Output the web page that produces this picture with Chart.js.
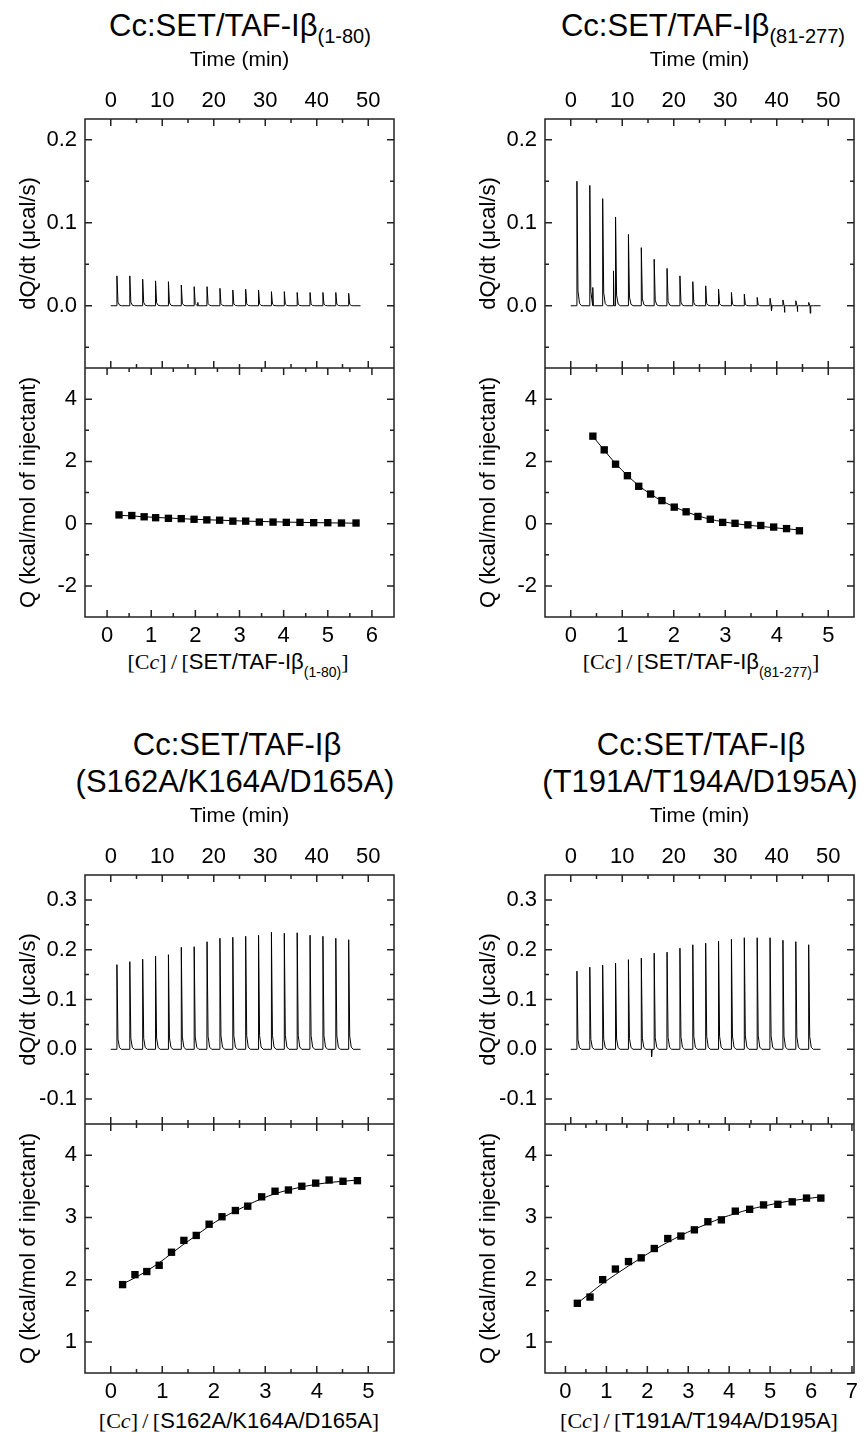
<!DOCTYPE html>
<html>
<head>
<meta charset="utf-8">
<title>ITC titrations</title>
<script src="https://cdn.jsdelivr.net/npm/chart.js@4.4.0/dist/chart.umd.min.js"></script>
<style>
  html, body { margin: 0; padding: 0; background: #fff; }
  body { position: relative; width: 865px; height: 1433px; overflow: hidden;
         font-family: 'Liberation Sans', Arial, sans-serif; color: #000; }
  canvas { position: absolute; }
  .lbl { position: absolute; white-space: nowrap; line-height: 1; transform: translateX(-50%); }
  .ttl { font-size: 31px; }
  .xl { font-size: 22px; }
  .serif { font-family: 'Liberation Serif', 'Times New Roman', serif; }
  .sb { line-height: 0; }
</style>
</head>
<body>

<div class="lbl ttl" style="left:240px; top:10px">Cc:SET/TAF-Iβ<span class="sb" style="font-size:20px; vertical-align:-7px">(1-80)</span></div>
<div class="lbl ttl" style="left:703px; top:10px">Cc:SET/TAF-Iβ<span class="sb" style="font-size:20px; vertical-align:-7px">(81-277)</span></div>
<div class="lbl ttl" style="left:237px; top:729px">Cc:SET/TAF-Iβ</div>
<div class="lbl ttl" style="left:235px; top:766px">(S162A/K164A/D165A)</div>
<div class="lbl ttl" style="left:701px; top:729px">Cc:SET/TAF-Iβ</div>
<div class="lbl ttl" style="left:700px; top:766px">(T191A/T194A/D195A)</div>

<div class="lbl xl" style="left:238px; top:651px"><span class="serif">[C<i>c</i>]&#8201;/&#8201;[</span>SET/TAF-Iβ<span class="sb" style="font-size:14px; vertical-align:-8px">(1-80)</span><span class="serif">]</span></div>
<div class="lbl xl" style="left:701px; top:651px"><span class="serif">[C<i>c</i>]&#8201;/&#8201;[</span>SET/TAF-Iβ<span class="sb" style="font-size:14px; vertical-align:-8px">(81-277)</span><span class="serif">]</span></div>
<div class="lbl xl" style="left:239px; top:1410px"><span class="serif">[C<i>c</i>]&#8201;/&#8201;[</span>S162A/K164A/D165A<span class="serif">]</span></div>
<div class="lbl xl" style="left:699px; top:1410px"><span class="serif">[C<i>c</i>]&#8201;/&#8201;[</span>T191A/T194A/D195A<span class="serif">]</span></div>

<script>
// Injection times (min), same protocol in the four titrations
const injectionTimes = [1.2, 3.7, 6.2, 8.7, 11.2, 13.7, 16.2, 18.7, 21.2, 23.7, 26.2, 28.7, 31.2, 33.7, 36.2, 38.7, 41.2, 43.7, 46.2];
const traceEnd = 48.5;

// Shape of one injection peak: minutes after the injection and fraction of the peak height
const spikeOffsets = [-0.03, 0, 0.2, 0.5, 0.9];
const spikeShape = [0, 1, 0.12, 0.02, 0];

// Peak heights of the raw thermograms (µcal/s)
const peaksA = [0.036, 0.036, 0.032, 0.030, 0.029, 0.025, 0.023, 0.023, 0.021, 0.019, 0.020, 0.019, 0.017, 0.017, 0.016, 0.016, 0.016, 0.016, 0.015];
const peaksB = [0.150, 0.145, 0.129, 0.107, 0.086, 0.070, 0.056, 0.045, 0.036, 0.029, 0.024, 0.020, 0.016, 0.014, 0.010, 0.009, 0.007, 0.006, 0.004];
const peaksC = [0.170, 0.176, 0.181, 0.187, 0.190, 0.205, 0.206, 0.216, 0.223, 0.225, 0.227, 0.229, 0.235, 0.233, 0.234, 0.229, 0.227, 0.223, 0.220];
const peaksD = [0.157, 0.165, 0.169, 0.173, 0.180, 0.183, 0.193, 0.195, 0.203, 0.210, 0.213, 0.217, 0.221, 0.224, 0.224, 0.224, 0.219, 0.216, 0.210];

// Small bumps and dips off the baseline: [time, value]
const blipsA = [[16.9, 0.004]];
const blipsB = [[4.3, 0.022], [8.3, 0.042], [39.0, -0.006], [41.5, -0.008], [44.0, -0.007], [46.5, -0.009]];
const blipsC = [];
const blipsD = [[15.7, -0.015]];

// Integrated heats: molar ratio, Q (kcal/mol of injectant) and the fitted curve
const ratioA = [0.27, 0.56, 0.84, 1.10, 1.39, 1.68, 1.97, 2.26, 2.55, 2.85, 3.14, 3.45, 3.76, 4.06, 4.37, 4.68, 5.00, 5.31, 5.64];
const heatA  = [0.28, 0.26, 0.22, 0.19, 0.17, 0.16, 0.14, 0.12, 0.11, 0.08, 0.08, 0.05, 0.05, 0.04, 0.04, 0.03, 0.03, 0.02, 0.02];
const fitA   = [0.27, 0.245, 0.22, 0.20, 0.18, 0.16, 0.14, 0.125, 0.11, 0.095, 0.08, 0.07, 0.06, 0.05, 0.04, 0.032, 0.026, 0.02, 0.015];

const ratioB = [0.43, 0.65, 0.87, 1.10, 1.32, 1.55, 1.77, 2.01, 2.24, 2.47, 2.71, 2.95, 3.19, 3.44, 3.69, 3.94, 4.19, 4.44];
const heatB  = [2.81, 2.37, 1.91, 1.54, 1.20, 0.95, 0.74, 0.53, 0.38, 0.23, 0.14, 0.04, 0.01, -0.04, -0.06, -0.11, -0.16, -0.23];
const fitB   = [2.80, 2.36, 1.93, 1.55, 1.22, 0.95, 0.73, 0.54, 0.38, 0.25, 0.14, 0.06, 0.00, -0.05, -0.09, -0.13, -0.17, -0.20];

const ratioC = [0.23, 0.47, 0.70, 0.94, 1.18, 1.42, 1.66, 1.91, 2.16, 2.42, 2.66, 2.93, 3.19, 3.45, 3.71, 3.98, 4.24, 4.51, 4.79];
const heatC  = [1.92, 2.08, 2.13, 2.23, 2.44, 2.63, 2.71, 2.89, 3.01, 3.11, 3.18, 3.33, 3.42, 3.44, 3.50, 3.55, 3.60, 3.58, 3.59];
const fitC   = [1.93, 2.03, 2.14, 2.27, 2.42, 2.57, 2.71, 2.86, 2.99, 3.10, 3.20, 3.30, 3.38, 3.44, 3.49, 3.53, 3.56, 3.58, 3.60];

const ratioD = [0.29, 0.60, 0.91, 1.22, 1.54, 1.85, 2.17, 2.50, 2.82, 3.15, 3.48, 3.81, 4.15, 4.50, 4.84, 5.19, 5.54, 5.89, 6.24];
const heatD  = [1.62, 1.72, 2.00, 2.17, 2.29, 2.35, 2.50, 2.66, 2.70, 2.80, 2.93, 2.96, 3.10, 3.13, 3.20, 3.21, 3.25, 3.31, 3.31];
const fitD   = [1.62, 1.78, 1.94, 2.08, 2.22, 2.35, 2.48, 2.60, 2.71, 2.81, 2.90, 2.99, 3.06, 3.13, 3.18, 3.23, 3.27, 3.30, 3.33];

// Tick labels
const timeTicks = [0, 10, 20, 30, 40, 50];
const rateTicksAB = [0, 0.1, 0.2];
const rateTicksCD = [-0.1, 0, 0.1, 0.2, 0.3];
const heatTicksAB = [-2, 0, 2, 4];
const heatTicksCD = [1, 2, 3, 4];
const ratioTicksA = [0, 1, 2, 3, 4, 5, 6];
const ratioTicksB = [0, 1, 2, 3, 4, 5];
const ratioTicksC = [0, 1, 2, 3, 4, 5];
const ratioTicksD = [0, 1, 2, 3, 4, 5, 6, 7];

const FONT = "'Liberation Sans', Arial, sans-serif";
const AXIS_W = 85, TOP_H = 79, BOTTOM_H = 43;

// Thermogram as a line: flat baseline plus one peak per injection
function buildTrace(peaks, blips) {
    const pts = [{x: 0, y: 0}];
    injectionTimes.forEach((t, i) => {
        spikeOffsets.forEach((o, j) => pts.push({x: t + o, y: peaks[i] * spikeShape[j]}));
    });
    blips.forEach(([t, v]) => pts.push({x: t - 0.05, y: 0}, {x: t, y: v}, {x: t + 0.1, y: 0}));
    pts.push({x: traceEnd, y: 0});
    return pts.sort((a, b) => a.x - b.x);
}

const pairs = (xs, ys) => xs.map((x, i) => ({x: x, y: ys[i]}));

// Box round the plot, the divider and inward ticks on all four sides
const framePlugin = {
    id: 'frame',
    afterDraw(chart, args, opts) {
        const {ctx, chartArea: a, scales} = chart;
        const mid = scales.y2.bottom;
        ctx.save();
        ctx.strokeStyle = '#222';
        ctx.lineWidth = 1.5;
        ctx.strokeRect(a.left, a.top, a.right - a.left, a.bottom - a.top);
        ctx.beginPath();
        ctx.moveTo(a.left, mid); ctx.lineTo(a.right, mid);

        const marks = (scale, step, majors, draw) => {
            for (let v = Math.ceil(scale.min / step - 1e-6) * step; v <= scale.max + 1e-9; v += step) {
                const big = majors.some(m => Math.abs(m - v) < 1e-6);
                draw(scale.getPixelForValue(v), big ? 7 : 4);
            }
        };
        const horiz = (edge, dir) => (p, len) => {
            if (p < a.left + 1 || p > a.right - 1) return;
            ctx.moveTo(p, edge); ctx.lineTo(p, edge + dir * len);
        };
        const vert = (edge, dir, lo, hi) => (p, len) => {
            if (p < lo + 1 || p > hi - 1) return;
            ctx.moveTo(edge, p); ctx.lineTo(edge + dir * len, p);
        };
        marks(scales.x2, opts.timeStep, timeTicks, horiz(a.top, 1));
        marks(scales.x2, opts.timeStep, timeTicks, horiz(mid, -1));
        marks(scales.x, opts.ratioStep, opts.ratioTicks, horiz(a.bottom, -1));
        marks(scales.x, opts.ratioStep, opts.ratioTicks, horiz(mid, 1));
        marks(scales.y2, opts.rateStep, opts.rateTicks, vert(a.left, 1, a.top, mid));
        marks(scales.y2, opts.rateStep, opts.rateTicks, vert(a.right, -1, a.top, mid));
        marks(scales.y, opts.heatStep, opts.heatTicks, vert(a.left, 1, mid, a.bottom));
        marks(scales.y, opts.heatStep, opts.heatTicks, vert(a.right, -1, mid, a.bottom));
        ctx.stroke();
        ctx.restore();
    }
};

function axis(position, min, max, majors, fmt, pad, extra) {
    return Object.assign({
        type: 'linear', position: position, min: min, max: max,
        grid: { display: false, drawTicks: false },
        border: { display: false },
        afterBuildTicks: s => { s.ticks = majors.map(v => ({value: v})); },
        ticks: { autoSkip: false, maxRotation: 0, color: '#000', padding: pad,
                 font: { family: FONT, size: 22 }, callback: v => fmt(v) }
    }, extra);
}

function makePanel(p) {
    const cl = p.box.left - AXIS_W, ct = p.box.top - TOP_H;
    const cw = Math.min(p.box.right + 38, 865) - cl;
    const ch = p.box.bottom + BOTTOM_H - ct;
    const cv = document.createElement('canvas');
    cv.width = cw; cv.height = ch;
    cv.style.left = cl + 'px'; cv.style.top = ct + 'px';
    document.body.appendChild(cv);

    const yTitle = (text) => ({ display: true, text: text, color: '#000',
        font: { family: FONT, size: 22 }, padding: { top: 16, bottom: 0 } });

    new Chart(cv, {
        type: 'scatter',
        data: {
            datasets: [
                { data: buildTrace(p.peaks, p.blips), xAxisID: 'x2', yAxisID: 'y2', showLine: true,
                  borderColor: '#000', borderWidth: 1, pointRadius: 0, tension: 0 },
                { data: pairs(p.ratio, p.fit), xAxisID: 'x', yAxisID: 'y', showLine: true,
                  borderColor: '#000', borderWidth: 1, pointRadius: 0, cubicInterpolationMode: 'monotone' },
                { data: pairs(p.ratio, p.heat), xAxisID: 'x', yAxisID: 'y', showLine: false,
                  pointStyle: 'rect', pointRadius: 5.2, backgroundColor: '#000', borderColor: '#000', borderWidth: 0 }
            ]
        },
        options: {
            responsive: false, animation: false, devicePixelRatio: 1,
            layout: { padding: { left: 0, top: 0, bottom: 0, right: cw - (p.box.right - cl) } },
            plugins: {
                legend: { display: false }, tooltip: { enabled: false },
                frame: { timeStep: 5, ratioStep: 0.5, ratioTicks: p.ratioTicks,
                         rateStep: 0.05, rateTicks: p.rateTicks, heatStep: p.heatStep, heatTicks: p.heatTicks }
            },
            scales: {
                x2: axis('top', -5, 55, timeTicks, v => String(v), 5, {
                    afterFit: s => { s.height = TOP_H; },
                    title: { display: true, text: 'Time (min)', color: '#000',
                             font: { family: FONT, size: 21 }, padding: { top: 8, bottom: 0 } }
                }),
                x: axis('bottom', p.ratioRange[0], p.ratioRange[1], p.ratioTicks, v => String(v), 6, {
                    afterFit: s => { s.height = BOTTOM_H; }
                }),
                y: axis('left', p.heatRange[0], p.heatRange[1], p.heatTicks, v => String(v), 8, {
                    stack: 'left', stackWeight: 1, weight: 1,
                    afterFit: s => { s.width = AXIS_W; },
                    title: yTitle('Q (kcal/mol of injectant)')
                }),
                y2: axis('left', p.rateRange[0], p.rateRange[1], p.rateTicks, v => v.toFixed(1), 8, {
                    stack: 'left', stackWeight: 1, weight: 2,
                    afterFit: s => { s.width = AXIS_W; },
                    title: yTitle('dQ/dt (\u03bccal/s)')
                })
            }
        },
        plugins: [framePlugin]
    });
}

Chart.defaults.font.family = FONT;

const panels = [
    { box: {left: 85, right: 394, top: 119, bottom: 617}, peaks: peaksA, blips: blipsA,
      ratio: ratioA, heat: heatA, fit: fitA, ratioRange: [-0.5, 6.5], ratioTicks: ratioTicksA,
      rateRange: [-0.075, 0.225], rateTicks: rateTicksAB, heatRange: [-3, 5], heatTicks: heatTicksAB, heatStep: 1 },
    { box: {left: 545, right: 854, top: 119, bottom: 617}, peaks: peaksB, blips: blipsB,
      ratio: ratioB, heat: heatB, fit: fitB, ratioRange: [-0.5, 5.5], ratioTicks: ratioTicksB,
      rateRange: [-0.075, 0.225], rateTicks: rateTicksAB, heatRange: [-3, 5], heatTicks: heatTicksAB, heatStep: 1 },
    { box: {left: 85, right: 394, top: 875, bottom: 1373}, peaks: peaksC, blips: blipsC,
      ratio: ratioC, heat: heatC, fit: fitC, ratioRange: [-0.5, 5.5], ratioTicks: ratioTicksC,
      rateRange: [-0.15, 0.35], rateTicks: rateTicksCD, heatRange: [0.5, 4.5], heatTicks: heatTicksCD, heatStep: 0.5 },
    { box: {left: 545, right: 854, top: 875, bottom: 1373}, peaks: peaksD, blips: blipsD,
      ratio: ratioD, heat: heatD, fit: fitD, ratioRange: [-0.5, 7.05], ratioTicks: ratioTicksD,
      rateRange: [-0.15, 0.35], rateTicks: rateTicksCD, heatRange: [0.5, 4.5], heatTicks: heatTicksCD, heatStep: 0.5 }
];

panels.forEach(makePanel);
</script>
</body>
</html>
